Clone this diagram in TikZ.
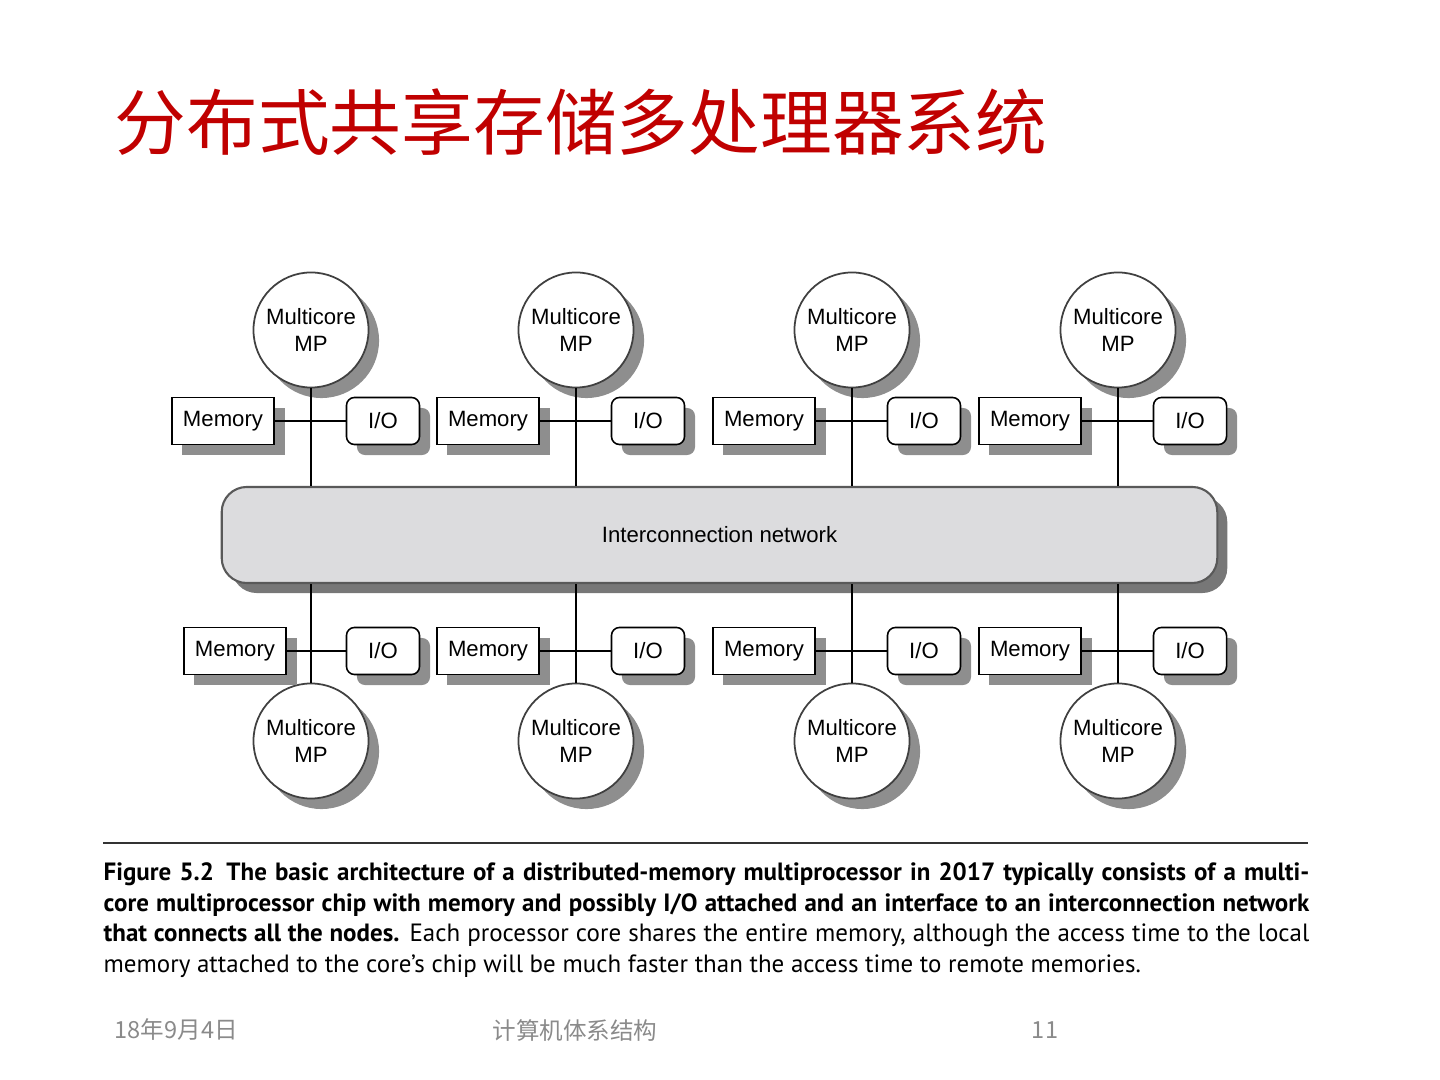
\documentclass[tikz,border=0pt]{standalone}
\usepackage{fontspec}
\setmainfont{Liberation Sans}
\newfontfamily\cjk{Noto Sans CJK SC}
\newfontfamily\capfont{PT Sans}
\usetikzlibrary{positioning,shadows}
\definecolor{titlered}{HTML}{C00000}
\definecolor{boxshadow}{HTML}{8E8E8E}
\definecolor{netfill}{HTML}{DCDCDE}
\definecolor{netshadow}{HTML}{777777}
\definecolor{footgray}{HTML}{8A8A8A}

\begin{document}
\begin{tikzpicture}[x=0.01cm, y=-0.01cm, font=\fontsize{6.3}{7.7}\selectfont,
		shade/.style={drop shadow={shadow xshift=0.105cm, shadow yshift=-0.105cm, fill=boxshadow, opacity=1}},
		mpnode/.style={circle, draw=black!75, line width=0.5pt, fill=white, minimum size=1.15cm, inner sep=0pt, align=center, shade},
		membox/.style={rectangle, draw, line width=0.45pt, fill=white, minimum width=1.02cm, minimum height=0.47cm, inner sep=0pt, shade},
		iobox/.style={rectangle, rounded corners=0.08cm, draw, line width=0.45pt, fill=white, minimum width=0.73cm, minimum height=0.47cm, inner sep=0pt, shade},
		netbox/.style={rectangle, rounded corners=0.25cm, draw=black!65, line width=0.6pt, fill=netfill, minimum width=9.95cm, minimum height=0.96cm,
				drop shadow={shadow xshift=0.1cm, shadow yshift=-0.1cm, fill=netshadow, opacity=1}},
		wire/.style={line width=0.45pt},
		foot/.style={text=footgray, font=\cjk\fontsize{6.7}{8}\selectfont}]
	\useasboundingbox (0,0) rectangle (1440,1080);

	% --- Titel ---
	\node[anchor=west, inner sep=0pt, text=titlered, font=\cjk\fontsize{20.4}{24}\selectfont] (title) at (114,122) {分布式共享存储多处理器系统};

	% --- Netz ---
	\node[netbox] (net) at (719.5,535) {Interconnection network};

	% --- Knoten oben und unten ---
	\foreach \col/\xc/\xm in {1/311/235, 2/576/488, 3/852/764, 4/1118/1030}{
			% oben
			\node[mpnode] (mpT\col) at (\xc,330) {Multicore\\MP};
			\node[membox] (memT\col) at (\xc-88,421) {Memory};
			\node[iobox] (ioT\col) at (\xc+72,421) {I/O};
			\draw[wire] (memT\col.east) -- (ioT\col.west);
			\draw[wire] (mpT\col.south) -- (mpT\col.south |- net.north);
			% unten
			\node[mpnode] (mpB\col) at (\xc,741) {Multicore\\MP};
			\node[membox] (memB\col) at (\xm,651) {Memory};
			\node[iobox] (ioB\col) at (\xc+72,651) {I/O};
			\draw[wire] (memB\col.east) -- (ioB\col.west);
			\draw[wire] (mpB\col.north |- net.south) -- (mpB\col.north);
		}

	% --- Bildunterschrift ---
	\draw[line width=0.45pt, black!80] (103,843) -- (1308,843);
	\node[anchor=north west, inner sep=0pt, text width=12.05cm, align=justify,
		font=\capfont\fontsize{7.1}{8.7}\selectfont] (caption) at (103,862)
	{\textbf{Figure 5.2}\enspace\textbf{The basic architecture of a distributed-memory multiprocessor in 2017 typically consists of a multi-\linebreak
			core multiprocessor chip with memory and possibly I/O attached and an interface to an interconnection network\linebreak
			that connects all the nodes.} Each processor core shares the entire memory, although the access time to the local\linebreak
		memory attached to the core’s chip will be much faster than the access time to remote memories.};

	% --- Fusszeile ---
	\node[foot, anchor=west, inner sep=0pt] (date) at (114,1030) {18年9月4日};
	\node[foot, inner sep=0pt] (course) at (575,1030) {计算机体系结构};
	\node[foot, inner sep=0pt] (page) at (1045,1030) {11};
\end{tikzpicture}
\end{document}
